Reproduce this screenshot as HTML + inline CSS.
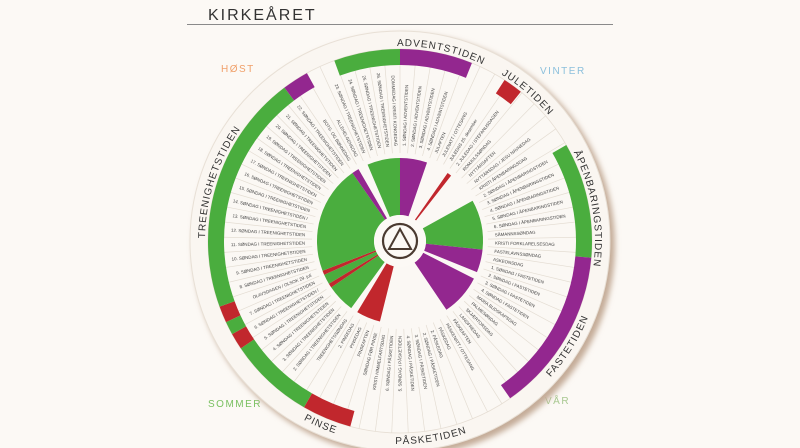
<!DOCTYPE html>
<html><head><meta charset="utf-8">
<style>
html,body{margin:0;padding:0;background:#fcf9f5;}
svg{display:block;font-family:"Liberation Sans",sans-serif;}
.lb text{font-size:4.4px;fill:#444;}
.cv{font-size:10px;fill:#333;letter-spacing:1px;}
</style></head><body>
<svg id="s" width="800" height="448" viewBox="0 0 800 448" xmlns="http://www.w3.org/2000/svg">
<defs>
<filter id="bl" x="-20%" y="-20%" width="140%" height="140%"><feGaussianBlur stdDeviation="3"/></filter>
<path id="cw196" d="M0,-195 A195,195 0 1 1 0,195 A195,195 0 1 1 0,-195"/>
<path id="ccw204" d="M0,-203 A203,203 0 1 0 0,203 A203,203 0 1 0 0,-203"/>
</defs>
<rect width="800" height="448" fill="#fcf9f5"/>
<text x="208" y="20" font-size="16" fill="#333" letter-spacing="2">KIRKEÅRET</text>
<line x1="187" y1="24.5" x2="613" y2="24.5" stroke="#8a8a8a" stroke-width="1"/>
<text x="221" y="72" font-size="10" fill="#f0a06a" letter-spacing="1.5">HØST</text>
<text x="540" y="74" font-size="10" fill="#8cc0dc" letter-spacing="1.5">VINTER</text>
<text x="208" y="407" font-size="10" fill="#79c060" letter-spacing="1.5">SOMMER</text>
<text x="545" y="404" font-size="10" fill="#a8c890" letter-spacing="1.5">VÅR</text>
<g transform="translate(400,241)">
<circle cx="4" cy="4" r="211" fill="#c4ac98" filter="url(#bl)"/>
<circle r="210" fill="#faf6f1" stroke="#e8e0d6" stroke-width="1"/>
<circle r="192" fill="#fbf8f4" stroke="#e6ded4" stroke-width="0.8"/>
<g id="spokes"></g>
<g id="band"></g>
<g id="pie"></g>
<circle r="26" fill="#fcf9f5"/>
<circle r="17" fill="none" stroke="#4a3a30" stroke-width="2.2"/>
<path d="M0,-12 L11,8 L-11,8 Z" fill="none" stroke="#4a3a30" stroke-width="2"/>
<text class="cv"><textPath href="#cw196" startOffset="3.4%" text-anchor="middle">ADVENTSTIDEN</textPath></text>
<text class="cv"><textPath href="#cw196" startOffset="11.3%" text-anchor="middle">JULETIDEN</textPath></text>
<text class="cv"><textPath href="#cw196" startOffset="22.3%" text-anchor="middle">ÅPENBARINGSTIDEN</textPath></text>
<text class="cv"><textPath href="#ccw204" startOffset="66.1%" text-anchor="middle">FASTETIDEN</textPath></text>
<text class="cv"><textPath href="#ccw204" startOffset="52.5%" text-anchor="middle">PÅSKETIDEN</textPath></text>
<text class="cv"><textPath href="#ccw204" startOffset="43.5%" text-anchor="middle">PINSE</textPath></text>
<text class="cv"><textPath href="#cw196" startOffset="80%" text-anchor="middle">TREENIGHETSTIDEN</textPath></text>
<g class="lb" id="labels">
<text>1. SØNDAG I ADVENTSTIDEN</text>
<text>2. SØNDAG I ADVENTSTIDEN</text>
<text>3. SØNDAG I ADVENTSTIDEN</text>
<text>4. SØNDAG I ADVENTSTIDEN</text>
<text>JULAFTEN</text>
<text>JULENATT / OTTESANG</text>
<text>JULEDAG 25. desember</text>
<text>2. JULEDAG / STEFANUSDAGEN</text>
<text>ROMJULSSØNDAG</text>
<text>NYTTÅRSAFTEN</text>
<text>NYTTÅRSDAG / JESU NAVNEDAG</text>
<text>KRISTI ÅPENBARINGSDAG</text>
<text>2. SØNDAG I ÅPENBARINGSTIDEN</text>
<text>3. SØNDAG I ÅPENBARINGSTIDEN</text>
<text>4. SØNDAG I ÅPENBARINGSTIDEN</text>
<text>5. SØNDAG I ÅPENBARINGSTIDEN</text>
<text>6. SØNDAG I ÅPENBARINGSTIDEN</text>
<text>SÅMANNSSØNDAG</text>
<text>KRISTI FORKLARELSESDAG</text>
<text>FASTELAVNSSØNDAG</text>
<text>ASKEONSDAG</text>
<text>1. SØNDAG I FASTETIDEN</text>
<text>2. SØNDAG I FASTETIDEN</text>
<text>3. SØNDAG I FASTETIDEN</text>
<text>4. SØNDAG I FASTETIDEN</text>
<text>MARIA BUDSKAPSDAG</text>
<text>PALMESØNDAG</text>
<text>SKJÆRTORSDAG</text>
<text>LANGFREDAG</text>
<text>PÅSKEAFTEN</text>
<text>PÅSKENATT / OTTESANG</text>
<text>PÅSKEDAG</text>
<text>2. PÅSKEDAG</text>
<text>2. SØNDAG I PÅSKETIDEN</text>
<text>3. SØNDAG I PÅSKETIDEN</text>
<text>4. SØNDAG I PÅSKETIDEN</text>
<text>5. SØNDAG I PÅSKETIDEN</text>
<text>6. SØNDAG I PÅSKETIDEN</text>
<text>KRISTI HIMMELFARTSDAG</text>
<text>SØNDAG FØR PINSE</text>
<text>PINSEAFTEN</text>
<text>PINSEDAG</text>
<text>2. PINSEDAG</text>
<text>TREENIGHETSSØNDAG</text>
<text>2. SØNDAG I TREENIGHETSTIDEN</text>
<text>3. SØNDAG I TREENIGHETSTIDEN</text>
<text>4. SØNDAG I TREENIGHETSTIDEN</text>
<text>5. SØNDAG I TREENIGHETSTIDEN</text>
<text>6. SØNDAG I TREENIGHETSTIDEN /</text>
<text>7. SØNDAG I TREENIGHETSTIDEN</text>
<text>OLAVSDAGEN / OLSOK 29. juli</text>
<text>8. SØNDAG I TREENIGHETSTIDEN</text>
<text>9. SØNDAG I TREENIGHETSTIDEN</text>
<text>10. SØNDAG I TREENIGHETSTIDEN</text>
<text>11. SØNDAG I TREENIGHETSTIDEN</text>
<text>12. SØNDAG I TREENIGHETSTIDEN</text>
<text>13. SØNDAG I TREENIGHETSTIDEN</text>
<text>14. SØNDAG I TREENIGHETSTIDEN /</text>
<text>15. SØNDAG I TREENIGHETSTIDEN</text>
<text>16. SØNDAG I TREENIGHETSTIDEN</text>
<text>17. SØNDAG I TREENIGHETSTIDEN</text>
<text>18. SØNDAG I TREENIGHETSTIDEN</text>
<text>19. SØNDAG I TREENIGHETSTIDEN</text>
<text>20. SØNDAG I TREENIGHETSTIDEN</text>
<text>21. SØNDAG I TREENIGHETSTIDEN</text>
<text>22. SØNDAG I TREENIGHETSTIDEN</text>
<text>BOTS- OG BØNNEDAG</text>
<text>ALLEHELGENSDAG</text>
<text>23. SØNDAG I TREENIGHETSTIDEN</text>
<text>24. SØNDAG I TREENIGHETSTIDEN</text>
<text>25. SØNDAG I TREENIGHETSTIDEN</text>
<text>26. SØNDAG I TREENIGHETSTIDEN</text>
<text>DOMMEDAG / KRISTI KONGEDAG</text>
</g>
</g>
</svg>
<script>
(function(){
var NS="http://www.w3.org/2000/svg";
function pt(r,a){a=a*Math.PI/180;return [r*Math.sin(a),-r*Math.cos(a)];}
function arc(r1,r2,a1,a2,col,g){
 var p1=pt(r2,a1),p2=pt(r2,a2),p3=pt(r1,a2),p4=pt(r1,a1),l=(a2-a1)>180?1:0;
 var d="M"+p1+" A"+r2+","+r2+" 0 "+l+" 1 "+p2+" L"+p3+" A"+r1+","+r1+" 0 "+l+" 0 "+p4+"Z";
 var e=document.createElementNS(NS,"path");e.setAttribute("d",d);e.setAttribute("fill",col);g.appendChild(e);}
var G="#4aad3e",P="#93278f",R="#c1272d";
var band=document.getElementById("band"),pie=document.getElementById("pie");
[[0,22,P],[33,39,R],[60,95,G],[95,145,P],[195,210,R],[210,236,G],[236,241,R],[241,245,G],[245,250,R],[250,323,G],[323,331,P],[340,360,G]].forEach(function(s){arc(176,192,s[0],s[1],s[2],band);});
[[0,19,P],[35,38,R],[61,96,G],[96,112,P],[117,146,P],[194,211,R],[216,236,G],[236,239,R],[239,246,G],[246,249,R],[249,325,G],[325,330,P],[337,360,G]].forEach(function(s){arc(26,83,s[0],s[1],s[2],pie);});
var N=73,sp=document.getElementById("spokes");
for(var i=0;i<N;i++){var a=i*360/N,p=pt(88,a),q=pt(192,a);
 var l=document.createElementNS(NS,"line");l.setAttribute("x1",p[0]);l.setAttribute("y1",p[1]);l.setAttribute("x2",q[0]);l.setAttribute("y2",q[1]);
 l.setAttribute("stroke","#e4ddd3");l.setAttribute("stroke-width","0.7");sp.appendChild(l);}
var ts=document.getElementById("labels").children;
for(var j=0;j<ts.length;j++){var a=(j+0.5)*360/ts.length,t=ts[j];
 if(a<180){t.setAttribute("transform","rotate("+(a-90)+")");t.setAttribute("x","95");t.setAttribute("text-anchor","start");}
 else{t.setAttribute("transform","rotate("+(a+90)+")");t.setAttribute("x","-95");t.setAttribute("text-anchor","end");}
 t.setAttribute("y","1.5");}
})();
</script>
</body></html>
